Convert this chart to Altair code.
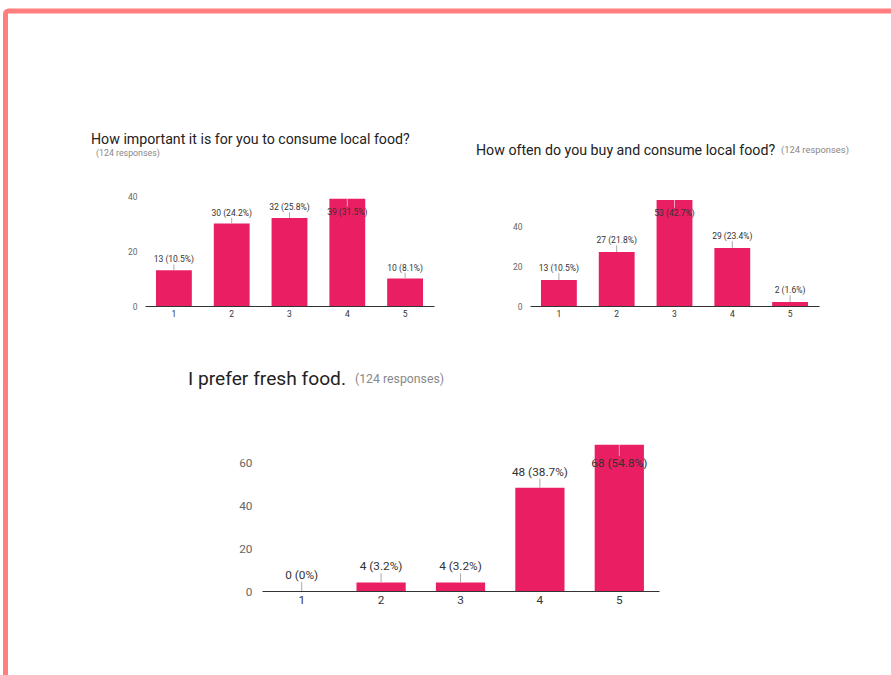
import altair as alt
import pandas as pd

# ---------------- data ----------------
categories = ["1", "2", "3", "4", "5"]

q1_title = "How important it is for you to consume local food?"
q1_counts = [13, 30, 32, 39, 10]
q1_pcts = ["10.5%", "24.2%", "25.8%", "31.5%", "8.1%"]

q2_title = "How often do you buy and consume local food?"
q2_counts = [13, 27, 53, 29, 2]
q2_pcts = ["10.5%", "21.8%", "42.7%", "23.4%", "1.6%"]

q3_title = "I prefer fresh food."
q3_counts = [0, 4, 4, 48, 68]
q3_pcts = ["0%", "3.2%", "3.2%", "38.7%", "54.8%"]

responses = "(124 responses)"
ticks_small = [0, 20, 40]
ticks_large = [0, 20, 40, 60]

BAR = "#E91E63"
FONT = "Roboto"


def panel(counts, pcts, xr, yr, ymax, yvals, fsize, gap, inside, area_top, lpad):
    ppu = (yr[0] - yr[1]) / ymax
    rows = []
    for c, n, p in zip(categories, counts, pcts):
        top_px = yr[0] - n * ppu
        lab_px = top_px - gap
        if lab_px - fsize / 2 < area_top:
            lab_px = top_px + inside
            lead_end_px = lab_px - fsize / 2 - 1
            lead_col = "#f8a5c2"
        else:
            lead_end_px = lab_px + fsize / 2 + 1
            lead_col = "#aaaaaa"
        rows.append({
            "cat": c, "n": n, "label": f"{n} ({p})",
            "lab": (yr[0] - lab_px) / ppu,
            "lead": (yr[0] - lead_end_px) / ppu,
            "lcol": lead_col,
        })
    df = pd.DataFrame(rows)
    x = alt.X("cat:O",
              scale=alt.Scale(range=xr, paddingInner=0.38, paddingOuter=0.19),
              axis=alt.Axis(orient="bottom", title=None, labelAngle=0, ticks=False,
                            domainColor="#333333", domainWidth=1, labelColor="#333333",
                            labelFont=FONT, labelFontSize=fsize, labelPadding=3,
                            offset=yr[0] - 675))
    yscale = alt.Scale(domain=[0, ymax], range=yr, nice=False, zero=True)
    y = alt.Y("n:Q", scale=yscale,
              axis=alt.Axis(orient="left", title=None, values=yvals, grid=False,
                            domain=False, ticks=False, labelColor="#666666",
                            labelFont=FONT, labelFontSize=fsize, labelPadding=lpad,
                            offset=-xr[0]))
    base = alt.Chart(df)
    bars = base.mark_bar(color=BAR).encode(x=x, y=y)
    leads = base.mark_rule(strokeWidth=1).encode(
        x=alt.X("cat:O"), y=alt.Y("n:Q"), y2="lead:Q",
        color=alt.Color("lcol:N", scale=None))
    texts = base.mark_text(font=FONT, fontSize=fsize, color="#333333",
                           baseline="middle").encode(
        x=alt.X("cat:O"), y=alt.Y("lab:Q"), text="label:N")
    return alt.layer(bars, leads, texts)


p1 = panel(q1_counts, q1_pcts, [145, 434], [306, 196], 40, ticks_small,
           8.5, 11, 13, 196, 8)
p2 = panel(q2_counts, q2_pcts, [530, 819], [306, 226], 40, ticks_small,
           8.5, 12, 13, 196, 8)
p3 = panel(q3_counts, q3_pcts, [262, 659], [591, 462], 60, ticks_large,
           11.8, 16, 18, 440, 10)

one = pd.DataFrame({"k": [0]})


def label(text, x, y, size, color, weight="normal"):
    return alt.Chart(one).mark_text(
        font=FONT, fontSize=size, color=color, align="left", baseline="middle",
        fontWeight=weight).encode(x=alt.value(x), y=alt.value(y), text=alt.value(text))


titles = [
    label(q1_title, 91, 140, 14.2, "#222222"),
    label(responses, 96, 153, 8.8, "#888888"),
    label(q2_title, 476, 151, 14.2, "#222222"),
    label(responses, 781, 150, 9.4, "#888888"),
    label(q3_title, 188, 379, 19.2, "#222222"),
    label(responses, 355, 379, 12.3, "#888888"),
]

border = alt.Chart(one).mark_rect(
    fill=None, stroke="#FF7F7F", strokeWidth=5, cornerRadius=3).encode(
    x=alt.value(5.5), x2=alt.value(1000), y=alt.value(11), y2=alt.value(1000))

chart = alt.layer(border, p1, p2, p3, *titles).resolve_scale(
    x="independent", y="independent"
).resolve_axis(x="independent", y="independent").properties(
    width=891, height=675, padding=0,
    autosize=alt.AutoSizeParams(type="none"),
    background="white",
).configure_view(strokeWidth=0)

chart.save("out.html", embed_options={"renderer": "svg", "actions": False})
